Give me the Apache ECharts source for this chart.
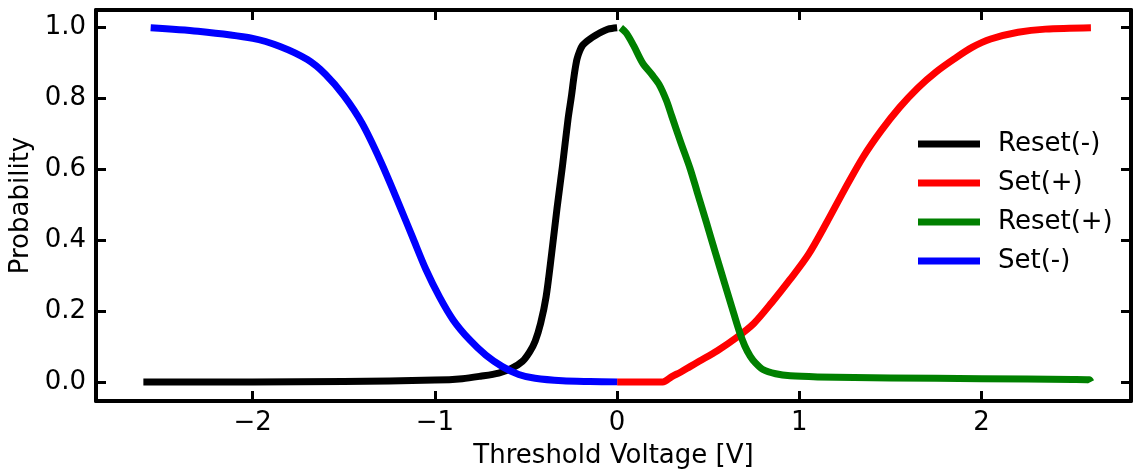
<!DOCTYPE html>
<html><head><meta charset="utf-8">
<script src="https://cdn.jsdelivr.net/npm/echarts@6/dist/echarts.min.js"></script>
<style>html,body{margin:0;padding:0;background:#fff}#c{width:1133px;height:476px}</style>
</head><body><div id="c"></div>
<script>
const seriesNames = ['Reset(-)', 'Set(+)', 'Reset(+)', 'Set(-)'];
const seriesColors = ['#000000', '#ff0000', '#008000', '#0000ff'];
const xTicks = [-2, -1, 0, 1, 2];
const yTicks = [0, 0.2, 0.4, 0.6, 0.8, 1.0];
const xTitle = 'Threshold Voltage [V]';
const yTitle = 'Probability';

const resetMinusV = [-2.6, -2.0, -1.5, -1.0, -0.85, -0.75, -0.65, -0.58, -0.52, -0.48, -0.45, -0.42, -0.39, -0.36, -0.33, -0.3, -0.27, -0.25, -0.24, -0.23, -0.22, -0.205, -0.19, -0.17, -0.15, -0.12, -0.09, -0.05, 0];
const resetMinusP = [0, 0, 0.001, 0.005, 0.009, 0.016, 0.025, 0.038, 0.058, 0.085, 0.115, 0.165, 0.24, 0.36, 0.49, 0.61, 0.74, 0.81, 0.85, 0.885, 0.912, 0.935, 0.95, 0.96, 0.968, 0.978, 0.987, 0.996, 1.0];

const setPlusV = [0, 0.1, 0.2, 0.25, 0.3, 0.35, 0.4, 0.45, 0.55, 0.65, 0.75, 0.85, 0.95, 1.05, 1.15, 1.25, 1.35, 1.45, 1.55, 1.65, 1.75, 1.85, 1.95, 2.05, 2.2, 2.35, 2.6];
const setPlusP = [0, 0, 0, 0, 0.015, 0.028, 0.043, 0.058, 0.088, 0.123, 0.165, 0.225, 0.29, 0.36, 0.45, 0.545, 0.635, 0.71, 0.775, 0.83, 0.875, 0.912, 0.945, 0.968, 0.987, 0.996, 1.0];

const resetPlusV = [0.02, 0.05, 0.09, 0.14, 0.19, 0.23, 0.27, 0.3, 0.35, 0.4, 0.44, 0.49, 0.54, 0.59, 0.63, 0.67, 0.7, 0.73, 0.76, 0.8, 0.87, 0.95, 1.1, 1.5, 2.0, 2.5, 2.59, 2.6];
const resetPlusP = [1.0, 0.985, 0.95, 0.9, 0.868, 0.84, 0.795, 0.75, 0.675, 0.603, 0.535, 0.45, 0.363, 0.278, 0.21, 0.143, 0.102, 0.073, 0.053, 0.035, 0.023, 0.017, 0.014, 0.011, 0.009, 0.007, 0.006, 0.0];

const setMinusV = [-2.56, -2.3, -2.0, -1.85, -1.7, -1.6, -1.5, -1.4, -1.3, -1.2, -1.12, -1.05, -0.975, -0.9, -0.81, -0.72, -0.63, -0.54, -0.45, -0.3, -0.15, 0];
const setMinusP = [1.0, 0.99, 0.97, 0.947, 0.91, 0.868, 0.808, 0.73, 0.625, 0.505, 0.405, 0.318, 0.24, 0.175, 0.119, 0.075, 0.043, 0.021, 0.01, 0.003, 0.001, 0];

const allV = [resetMinusV, setPlusV, resetPlusV, setMinusV];
const allP = [resetMinusP, setPlusP, resetPlusP, setMinusP];

const FONT = 'DejaVu Sans';
const FS = 26;
const fmtX = v => (v < 0 ? '\u2212' + Math.abs(v) : String(v));
const fmtY = v => v.toFixed(1);

function tick(values) {
  return { show: true, inside: true, length: 10, customValues: values, lineStyle: { color: '#000', width: 3 } };
}
function axisBase(extra) {
  return Object.assign({
    type: 'value',
    axisLine: { show: true, onZero: false, lineStyle: { color: '#000', width: 4 } },
    splitLine: { show: false },
  }, extra);
}

const chart = echarts.init(document.getElementById('c'), null, { renderer: 'canvas' });
chart.setOption({
  animation: false,
  backgroundColor: '#fff',
  grid: { left: 96, right: 2, top: 10, bottom: 75, containLabel: false, outerBoundsMode: 'none' },
  xAxis: [
    axisBase({ min: -2.86, max: 2.82, position: 'bottom',
      axisTick: tick(xTicks),
      axisLabel: { show: true, customValues: xTicks, formatter: fmtX, fontFamily: FONT, fontSize: FS, color: '#000', margin: 9 },
      name: xTitle, nameLocation: 'middle', nameGap: 42,
      nameTextStyle: { fontFamily: FONT, fontSize: FS, color: '#000' } }),
    axisBase({ min: -2.86, max: 2.82, position: 'top',
      axisTick: tick(xTicks),
      axisLabel: { show: false } })
  ],
  yAxis: [
    axisBase({ min: -0.054, max: 1.05, position: 'left',
      axisTick: tick(yTicks),
      axisLabel: { show: true, customValues: yTicks, formatter: fmtY, fontFamily: FONT, fontSize: FS, color: '#000', margin: 10 },
      name: yTitle, nameLocation: 'middle', nameGap: 62, nameRotate: 90,
      nameTextStyle: { fontFamily: FONT, fontSize: FS, color: '#000' } }),
    axisBase({ min: -0.054, max: 1.05, position: 'right',
      axisTick: tick(yTicks),
      axisLabel: { show: false } })
  ],
  legend: {
    left: 913, top: 126, orient: 'vertical', itemWidth: 62, itemHeight: 7, itemGap: 13,
    icon: 'rect',
    data: seriesNames,
    textStyle: { fontFamily: FONT, fontSize: FS, color: '#000', padding: [0, 0, 0, 13] }
  },
  series: seriesNames.map((name, i) => ({
    name: name,
    type: 'line',
    xAxisIndex: 0, yAxisIndex: 0,
    data: allV[i].map((v, k) => [v, allP[i][k]]),
    showSymbol: false,
    symbol: 'none',
    smooth: 0.3,
    lineStyle: { color: seriesColors[i], width: 7, join: 'round' },
    itemStyle: { color: seriesColors[i] },
    z: 2 + i
  }))
});
</script>
</body></html>
